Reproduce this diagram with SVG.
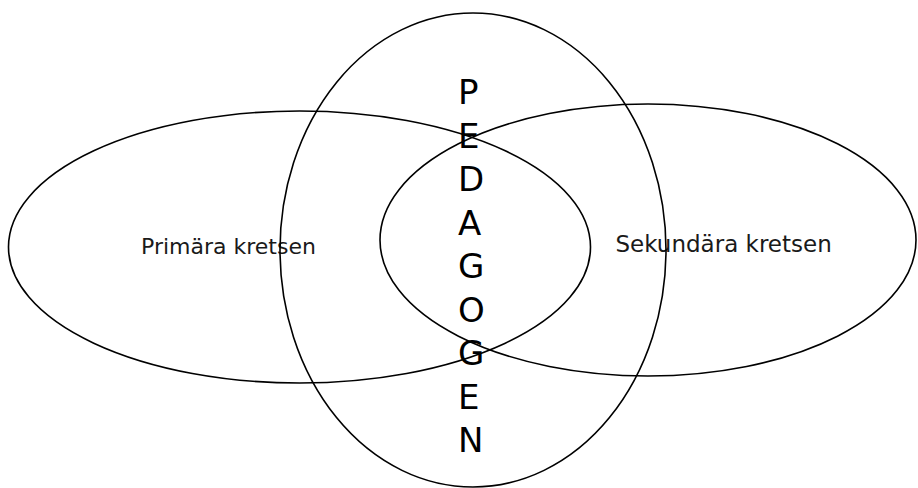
<svg xmlns="http://www.w3.org/2000/svg" width="918" height="488" viewBox="0 0 918 488">
  <style>
    .ring { fill: none; stroke: #000; stroke-width: 1.6; }
    .lbl { font-family: "DejaVu Sans", "Liberation Sans", sans-serif; fill: #1a1a1a; }
    .ped { font-family: "DejaVu Sans", "Liberation Sans", sans-serif; font-size: 34px; fill: #000; }
  </style>
  <rect width="918" height="488" fill="#fff"/>
  <g id="primara">
    <ellipse class="ring" cx="299.5" cy="247" rx="291" ry="136"/>
    <text class="lbl" x="141" y="254" font-size="22">Primära kretsen</text>
  </g>
  <g id="sekundara">
    <ellipse class="ring" cx="648" cy="240" rx="268" ry="136"/>
    <text class="lbl" x="615.5" y="252" font-size="23">Sekundära kretsen</text>
  </g>
  <g id="pedagogen">
    <ellipse class="ring" cx="473" cy="250" rx="193" ry="237"/>
    <text class="ped">
      <tspan x="458" y="104">P</tspan>
      <tspan x="458" y="147.5">E</tspan>
      <tspan x="458" y="191">D</tspan>
      <tspan x="458" y="234.5">A</tspan>
      <tspan x="458" y="278">G</tspan>
      <tspan x="458" y="321.5">O</tspan>
      <tspan x="458" y="365">G</tspan>
      <tspan x="458" y="408.5">E</tspan>
      <tspan x="458" y="452">N</tspan>
    </text>
  </g>
</svg>
